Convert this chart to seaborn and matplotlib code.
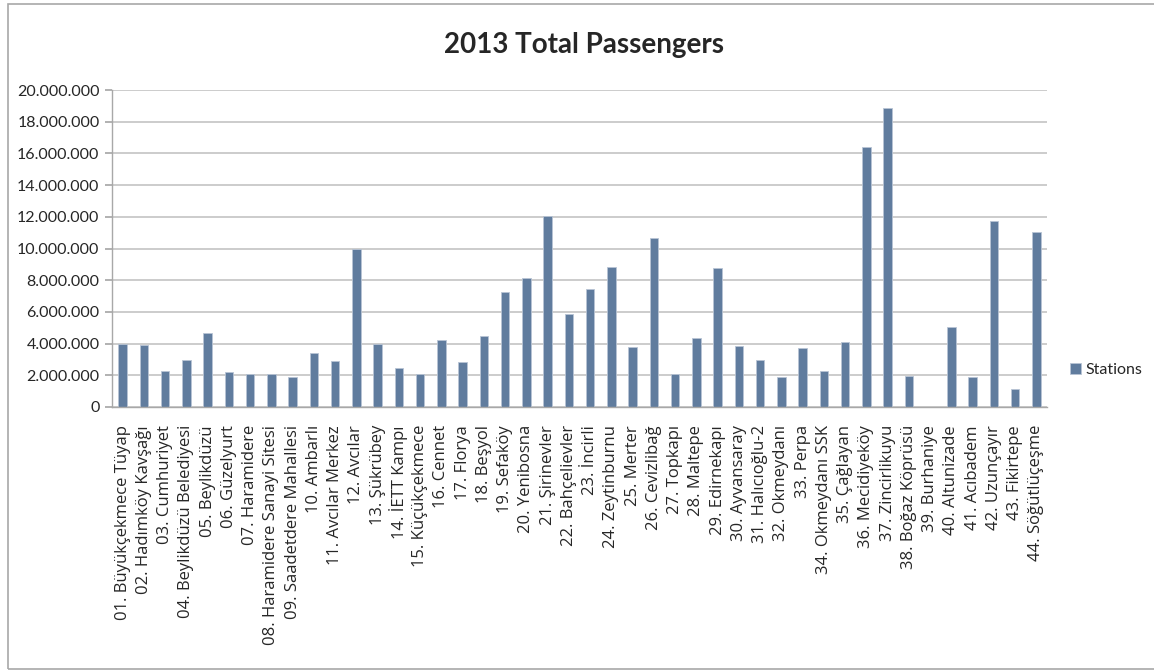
import matplotlib
matplotlib.use("Agg")
import matplotlib.pyplot as plt
import seaborn as sns
import pandas as pd
from matplotlib.ticker import FuncFormatter, MultipleLocator
from matplotlib.patches import Rectangle

stations = [
    "01. Büyükçekmece Tüyap", "02. Hadımköy Kavşağı", "03. Cumhuriyet",
    "04. Beylikdüzü Belediyesi", "05. Beylikdüzü", "06. Güzelyurt",
    "07. Haramidere", "08. Haramidere Sanayi Sitesi", "09. Saadetdere Mahallesi",
    "10. Ambarlı", "11. Avcılar Merkez", "12. Avcılar", "13. Şükrübey",
    "14. İETT Kampı", "15. Küçükçekmece", "16. Cennet", "17. Florya",
    "18. Beşyol", "19. Sefaköy", "20. Yenibosna", "21. Şirinevler",
    "22. Bahçelievler", "23. İncirli", "24. Zeytinburnu", "25. Merter",
    "26. Cevizlibağ", "27. Topkapı", "28. Maltepe", "29. Edirnekapı",
    "30. Ayvansaray", "31. Halıcıoğlu-2", "32. Okmeydanı", "33. Perpa",
    "34. Okmeydanı SSK", "35. Çağlayan", "36. Mecidiyeköy", "37. Zincirlikuyu",
    "38. Boğaz Köprüsü", "39. Burhaniye", "40. Altunizade", "41. Acıbadem",
    "42. Uzunçayır", "43. Fikirtepe", "44. Söğütlüçeşme",
]
passengers = [
    3970000, 3890000, 2250000, 2940000, 4690000, 2190000, 2080000, 2080000,
    1890000, 3390000, 2880000, 9990000, 3990000, 2460000, 2080000, 4200000,
    2820000, 4460000, 7260000, 8120000, 12070000, 5890000, 7440000, 8810000,
    3760000, 10690000, 2080000, 4330000, 8740000, 3830000, 2940000, 1890000,
    3700000, 2250000, 4120000, 16420000, 18840000, 1980000, 0, 5030000,
    1890000, 11740000, 1140000, 11060000,
]
series_name = "Stations"
title = "2013 Total Passengers"

df = pd.DataFrame({"station": stations, "passengers": passengers})

sns.set_theme(style="white")
plt.rcParams["font.family"] = ["Lato", "DejaVu Sans"]

W, H = 1154, 671
fig = plt.figure(figsize=(W / 100, H / 100), dpi=100)
ax = fig.add_axes([112 / W, 1 - 407 / H, (1047 - 112) / W, (407 - 90) / H])

bar_color = "#607C9E"
sns.barplot(data=df, x="station", y="passengers", color=bar_color, width=0.4,
            saturation=1, ax=ax, label=series_name, edgecolor="#B8C4D4", linewidth=0.6)

ax.set_ylim(0, 20000000)
ax.set_xlim(-0.5, len(stations) - 0.5)
ax.yaxis.set_major_locator(MultipleLocator(2000000))
ax.yaxis.set_major_formatter(FuncFormatter(lambda v, p: f"{int(v):,}".replace(",", ".")))
ax.grid(axis="y", color="#BEBEBE", linewidth=1.1)
ax.set_axisbelow(True)
for s in ["top", "right"]:
    ax.spines[s].set_visible(False)
for s in ["left", "bottom"]:
    ax.spines[s].set_color("#A8A8A8")
    ax.spines[s].set_linewidth(1.0)
ax.tick_params(axis="y", left=True, length=5, color="#A8A8A8", labelsize=11.5,
               labelcolor="#262626", pad=4)
ax.tick_params(axis="x", bottom=False, labelcolor="#262626", pad=7)
ax.set_xlabel("")
ax.set_ylabel("")
plt.setp(ax.get_xticklabels(), rotation=90, ha="center", va="top",
         family=["Open Sans", "DejaVu Sans"], fontsize=12)

ax.legend(loc="center left", bbox_to_anchor=(1062 / W, 1 - 370 / H),
          bbox_transform=fig.transFigure, frameon=False, fontsize=11.5,
          handlelength=0.7, handleheight=0.7, handletextpad=0.3, borderpad=0)

fig.text(584 / W, 1 - 45 / H, title, ha="center", va="center",
         fontsize=20, fontweight="bold", color="#262626")

fig.add_artist(Rectangle((8 / W, 2 / H), 1.2, 1 - 6 / H, transform=fig.transFigure,
                         fill=False, edgecolor="#A8A8A8", linewidth=1.2))

fig.savefig("out.png", dpi=100)
